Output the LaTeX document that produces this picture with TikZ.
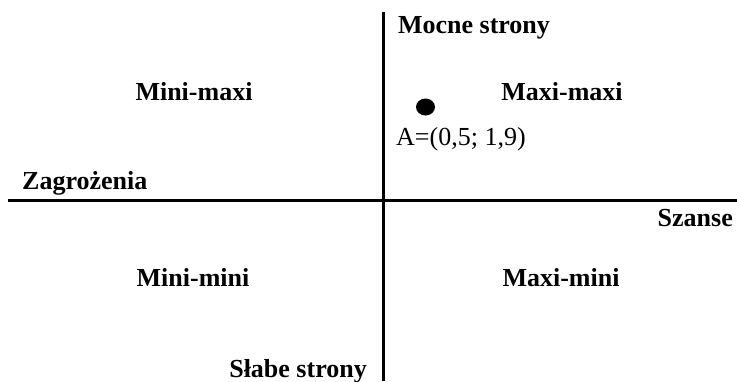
\documentclass[tikz,border=0pt]{standalone}
\usepackage{fontspec}
\setmainfont{Liberation Serif}
\begin{document}
\begin{tikzpicture}[x=1pt,y=-1pt,
  lbl/.style={font=\fontsize{26}{30}\selectfont\bfseries, inner sep=0pt, anchor=base},
  txt/.style={font=\fontsize{26}{30}\selectfont, inner sep=0pt, anchor=base west},
  axis/.style={line width=3pt}]
\useasboundingbox (0,0) rectangle (737,381);
\coordinate (vtop) at (383,12);
\coordinate (vbot) at (383,381);
\coordinate (hleft) at (8,200);
\coordinate (hright) at (737,200);
\draw[axis] (vtop) -- (vbot);
\draw[axis] (hleft) -- (hright);
\node[lbl] (mocne) at (474,33) {Mocne strony};
\node[lbl] (minimaxi) at (194,100) {Mini-maxi};
\node[lbl] (maximaxi) at (562,100) {Maxi-maxi};
\node[lbl, anchor=base west] (zagr) at (22,189) {Zagrożenia};
\node[lbl, anchor=base east] (szanse) at (733,226) {Szanse};
\node[lbl] (minimini) at (193,286) {Mini-mini};
\node[lbl] (maximini) at (561,286) {Maxi-mini};
\node[lbl, anchor=base east] (slabe) at (367,377) {Słabe strony};
\node[txt] (A) at (396,145) {A=(0,5; 1,9)};
\fill (425.5,107) ellipse [x radius=9.5, y radius=8.5];
\end{tikzpicture}
\end{document}
